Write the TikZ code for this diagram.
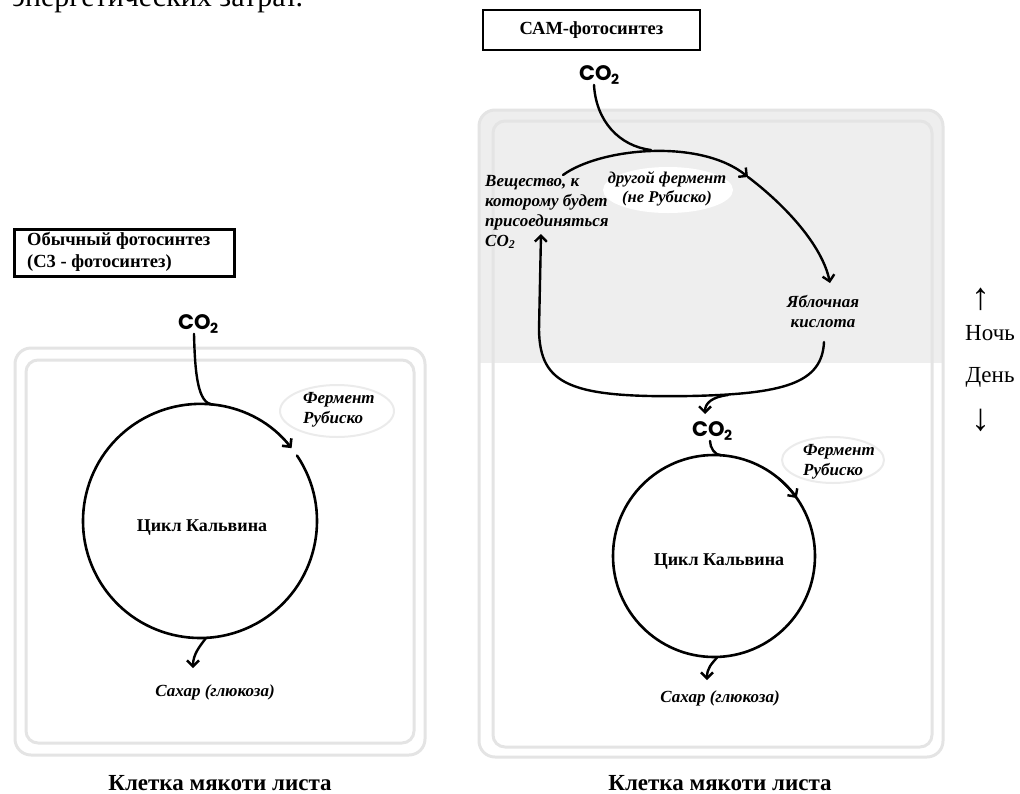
\documentclass[tikz,border=0pt]{standalone}
\usepackage{fontspec}
\setmainfont{Liberation Serif}
\newfontfamily\handfont{Poppins}
\usetikzlibrary{arrows.meta}
\definecolor{cellgray}{HTML}{E4E4E4}
\definecolor{bandgray}{HTML}{EEEEEE}
\definecolor{enzgray}{HTML}{EBEBEB}
\newcommand\cotwo{{\handfont\bfseries\fontsize{21}{21}\selectfont CO\kern-0.5pt\raisebox{-4.5pt}{\fontsize{14}{14}\selectfont 2}}}
\begin{document}
\begin{tikzpicture}[x=1pt,y=-1pt,
  cellline/.style={draw=cellgray,line width=3pt},
  curve/.style={line width=2.4pt,line cap=round},
  tipend/.style={-{Straight Barb[length=6pt,width=12pt]}},
  ring/.style={circle,inner sep=0pt,outer sep=0pt,minimum size=#1},
  titlebox/.style={draw,line width=2.6pt,inner sep=0pt},
  lab/.style={inner sep=0pt,font=\fontsize{17}{20}\selectfont\bfseries\itshape,align=left},
  calv/.style={inner sep=0pt,font=\fontsize{18}{22}\selectfont\bfseries},
  sugar/.style={inner sep=0pt,font=\fontsize{17}{20}\selectfont\bfseries\itshape},
  celltitle/.style={inner sep=0pt,anchor=base,font=\fontsize{23}{27}\selectfont\bfseries},
  daynight/.style={inner sep=0pt,font=\fontsize{23}{27}\selectfont},
  bigarrow/.style={inner sep=0pt,font=\fontsize{38}{38}\selectfont}]
\useasboundingbox (0,0) rectangle (1020,793);
\clip (0,0) rectangle (1020,793);

% cut-off text at the top
\node[anchor=base west,inner sep=0pt,font=\fontsize{30}{34}\selectfont] (toptext) at (12,6) {энергетических затрат.};

% left cell
\draw[cellline,rounded corners=16pt] (15,348) rectangle (425,755);
\draw[cellline,rounded corners=12pt] (26,360) rectangle (414,743);

% right cell with night band
\begin{scope}
  \clip (470,100) rectangle (950,362);
  \fill[bandgray,rounded corners=16pt] (479,110) rectangle (943,420);
\end{scope}
\draw[cellline,rounded corners=16pt] (479,110) rectangle (943,757);
\draw[cellline,rounded corners=12pt] (493,121) rectangle (932,747);

% title boxes
\node[titlebox,anchor=north west,minimum width=220pt,minimum height=47pt] (titleL) at (13,228) {};
\node[anchor=west,align=left,inner sep=0pt,font=\fontsize{18.5}{22}\selectfont\bfseries] (titleLtext) at ([xshift=14pt,yshift=0.5pt]titleL.west) {Обычный фотосинтез\\(С3 - фотосинтез)};
\node[titlebox,minimum width=217pt,minimum height=40pt,font=\fontsize{18.5}{20}\selectfont\bfseries] (titleR) at (591.5,30) {САМ-фотосинтез};

% enzyme labels
\draw[enzgray,line width=2pt] (337,411) ellipse [x radius=57,y radius=26];
\node[lab,anchor=west] (rubL) at (303,410) {Фермент\\Рубиско};
\draw[enzgray,line width=2pt] (833,460) ellipse [x radius=51,y radius=23];
\node[lab,anchor=west] (rubR) at (803,462) {Фермент\\Рубиско};
\fill[white] (668,190) ellipse [x radius=65,y radius=23];
\node[lab,align=center,font=\fontsize{16.5}{19.5}\selectfont\bfseries\itshape] (enz2) at (667,189) {другой фермент\\(не Рубиско)};
\node[lab,anchor=north west] (subst) at (485,175) {Вещество, к\\которому будет\\присоединяться\\CO\textsubscript{2}};
\node[lab,align=center] (malic) at (823,312) {Яблочная\\кислота};

% CO2 labels
\node[inner sep=0pt] (co2L) at (198,324) {\cotwo};
\node[inner sep=0pt] (co2T) at (599,75) {\cotwo};
\node[inner sep=0pt] (co2B) at (712,431) {\cotwo};

% Calvin cycles
\node[ring=234pt] (cycL) at (200,521) {};
\node[ring=202pt,draw,line width=2.6pt] (cycR) at (714,556) {};
\node[calv] (calvL) at (202,528) {Цикл Кальвина};
\node[calv] (calvR) at (719,562) {Цикл Кальвина};

% sugar
\node[sugar] (sugL) at (215,692) {Сахар (глюкоза)};
\node[sugar] (sugR) at (720,698) {Сахар (глюкоза)};

% cell captions
\node[celltitle] (cellL) at (220,790) {Клетка мякоти листа};
\node[celltitle] (cellR) at (720,790) {Клетка мякоти листа};

% night / day
\node[bigarrow] (upar) at (981,299) {↑};
\node[daynight] (night) at (990,333) {Ночь};
\node[daynight] (day) at (990,377) {День};
\node[bigarrow] (downar) at (981,420) {↓};

% coordinates for free ends
\coordinate (sugLin) at (193,668);
\coordinate (arcS) at (563,175);
\coordinate (arcJ) at (651,150);
\coordinate (arcM) at (748,177);
\coordinate (malIn) at (830,283);
\coordinate (malOut) at (824,342);
\coordinate (loopB) at (728,395);
\coordinate (substIn) at (541,234);
\coordinate (co2Bin) at (705,414);
\coordinate (sugRin) at (707,680);

% left connectors
\draw[curve] ([xshift=-4pt]co2L.south) .. controls +(1,42) and +(-14,-2) .. (cycL.84);
\draw[curve,line width=2.6pt,tipend] (cycL.34) arc[start angle=-34,end angle=321.5,radius=117];
\draw[curve,tipend] (cycL.-87) .. controls +(-6,8) and +(0,-14) .. (sugLin);

% right connectors
\draw[curve] ([xshift=-5pt]co2T.south) .. controls +(2,36) and +(-32,-4) .. (arcJ);
\draw[curve,tipend] (arcS) .. controls (600,148) and (700,138) .. (arcM);
\draw[curve,tipend] (arcM) .. controls (785,205) and (822,245) .. (malIn);
\draw[curve,tipend] (malOut) .. controls (822,383) and (785,394) .. (690,396) .. controls (570,398) and (540,385) .. (539,330) -- (substIn);
\draw[curve,tipend] (loopB) .. controls (712,397) and (705,403) .. (co2Bin);
\draw[curve] ([xshift=-2pt]co2B.south) .. controls +(0,7) and +(-6,0) .. (cycR.86);
\draw[curve,tipend] (cycR.50) arc[start angle=-50,end angle=-35,radius=101];
\draw[curve,tipend] (cycR.-88) .. controls +(-6,7) and +(0,-12) .. (sugRin);
\end{tikzpicture}
\end{document}
